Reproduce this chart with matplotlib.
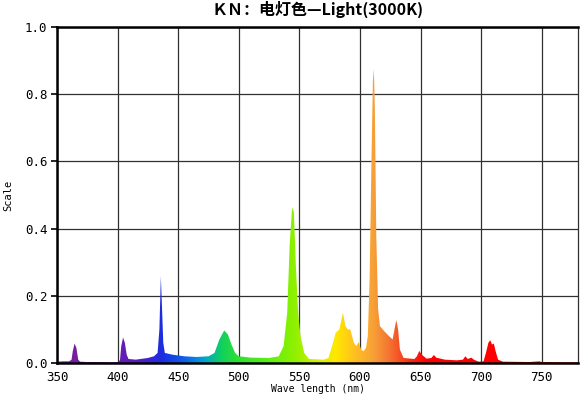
import numpy as np
import matplotlib
matplotlib.use("Agg")
import matplotlib.pyplot as plt
from matplotlib.colors import LinearSegmentedColormap

plt.rcParams['font.family'] = ['DejaVu Sans Mono', 'Noto Sans CJK SC', 'DejaVu Sans']

# =========================
# DATA
# =========================
title = "ＫＮ：电灯色—Light(3000K)"
x_ticks = [350, 400, 450, 500, 550, 600, 650, 700, 750]
y_ticks = [0.0, 0.2, 0.4, 0.6, 0.8, 1.0]

wavelength = [
    350, 355, 360, 362, 363, 364.5, 366, 367.5, 369, 375, 385, 395,
    401, 402, 403, 404.5, 406, 407.5, 409, 415, 425, 430, 433,
    434.5, 435.7, 436.7, 437.7, 439, 445, 455, 465, 475, 480, 484,
    488, 491, 494, 497, 500, 510, 525, 533, 537, 540, 542, 544,
    545.5, 547, 549, 551, 554, 558, 570, 574, 577, 580, 583, 586,
    588, 590, 592, 595, 597, 599, 601, 603, 605, 606.5, 608, 609.5,
    610.7, 611.5, 612.3, 613.5, 615, 616.5, 620, 624, 627, 628.5,
    630, 631.5, 633, 636, 645, 647, 649, 651, 655, 659, 661, 663,
    670, 680, 685, 687, 689, 692, 694, 698, 702, 704, 706, 707.5,
    709, 710.5, 712, 714, 718, 740, 748, 750, 770, 780,
]
scale = [
    0.004, 0.005, 0.005, 0.010, 0.035, 0.058, 0.045, 0.010, 0.004, 0.003, 0.003, 0.002,
    0.003, 0.010, 0.050, 0.076, 0.060, 0.025, 0.012, 0.010, 0.015, 0.020, 0.030,
    0.100, 0.258, 0.160, 0.060, 0.030, 0.025, 0.020, 0.018, 0.020, 0.030, 0.070,
    0.097, 0.085, 0.055, 0.030, 0.020, 0.016, 0.015, 0.020, 0.050, 0.150, 0.350, 0.462,
    0.450, 0.300, 0.150, 0.080, 0.030, 0.012, 0.010, 0.015, 0.050, 0.090, 0.100, 0.150,
    0.110, 0.100, 0.100, 0.060, 0.050, 0.063, 0.040, 0.035, 0.045, 0.080, 0.250, 0.600,
    0.840, 0.875, 0.760, 0.380, 0.160, 0.110, 0.095, 0.080, 0.070, 0.100,
    0.128, 0.100, 0.040, 0.015, 0.012, 0.020, 0.036, 0.025, 0.013, 0.015, 0.024, 0.016,
    0.010, 0.008, 0.010, 0.020, 0.012, 0.016, 0.010, 0.004, 0.005, 0.030, 0.060, 0.068,
    0.055, 0.058, 0.035, 0.010, 0.004, 0.003, 0.005, 0.003, 0.002, 0.002,
]

# spectrum colours by wavelength
spec_nm = [350, 390, 415, 436, 455, 470, 485, 500, 525, 546, 565, 580, 595, 611, 625, 640, 655, 780]
spec_col = ["#7a1f9a", "#7020a8", "#5a1cc0", "#1a2ee0", "#1060e8", "#00a0d8", "#10d060",
            "#30e030", "#60f010", "#90f000", "#d8f000", "#ffe800", "#ffc020", "#f8a038",
            "#f47030", "#f83018", "#ff0000", "#ff0000"]

# =========================
# FIGURE
# =========================
fig = plt.figure(figsize=(5.8, 3.99), dpi=100)
ax = fig.add_axes([0.0983, 0.0902, 0.8983, 0.8421])

xmin, xmax = 350, 780
pos = [(w - xmin) / (xmax - xmin) for w in spec_nm]
cmap = LinearSegmentedColormap.from_list("spec", list(zip(pos, spec_col)))

fill = ax.fill_between(wavelength, 0, scale, color="none", lw=0, zorder=2)
grad = np.linspace(0, 1, 1000).reshape(1, -1)
img = ax.imshow(grad, cmap=cmap, aspect="auto", extent=[xmin, xmax, 0, 1.0],
                origin="lower", zorder=2, interpolation="bilinear")
img.set_clip_path(fill.get_paths()[0], transform=ax.transData)
ax.set_xlim(xmin, xmax)
ax.set_ylim(0, 1.0)

ax.set_xticks(x_ticks)
ax.set_yticks(y_ticks)
ax.set_yticklabels(["%.1f" % v for v in y_ticks])
ax.grid(True, color="#303030", lw=0.9, zorder=1)
ax.set_axisbelow(True)

ax.tick_params(axis="y", direction="out", length=4, width=1.2, labelsize=9, pad=3)
ax.tick_params(axis="x", length=0, labelsize=9, pad=6)

for s in ["left", "bottom", "top"]:
    ax.spines[s].set_linewidth(1.8)
    ax.spines[s].set_color("black")
ax.spines["right"].set_linewidth(0.9)
ax.spines["right"].set_color("#303030")

ax.set_title(title, fontsize=11.5, pad=9, fontweight="bold",
             family=['Noto Sans CJK SC', 'DejaVu Sans'])
ax.set_xlabel("Wave length (nm)", fontsize=7, labelpad=0)
ax.set_ylabel("Scale", fontsize=7.5, labelpad=8)

fig.savefig("out.png", dpi=100)
